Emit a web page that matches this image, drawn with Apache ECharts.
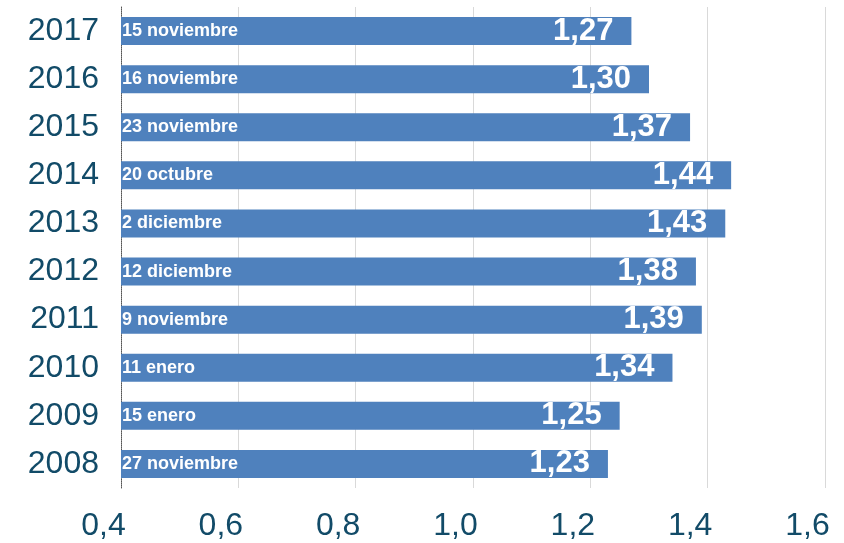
<!DOCTYPE html>
<html>
<head>
<meta charset="utf-8">
<script src="https://cdn.jsdelivr.net/npm/echarts@6/dist/echarts.min.js"></script>
<style>
  html, body { margin: 0; padding: 0; background: #fff; }
  #main { width: 844px; height: 543px; }
</style>
</head>
<body>
<div id="main"></div>
<script>
// years listed bottom to top (category axis starts at the bottom)
var years = ['2008', '2009', '2010', '2011', '2012', '2013', '2014', '2015', '2016', '2017'];
var values = [1.23, 1.25, 1.34, 1.39, 1.38, 1.43, 1.44, 1.37, 1.30, 1.27];
var dates = ['27 noviembre', '15 enero', '11 enero', '9 noviembre', '12 diciembre',
  '2 diciembre', '20 octubre', '23 noviembre', '16 noviembre', '15 noviembre'];

var font = 'Liberation Sans, Arial, sans-serif';
var textColor = '#124b68';

var chart = echarts.init(document.getElementById('main'));
chart.setOption({
  animation: false,
  grid: { left: 121, right: 19, top: 7, bottom: 55, containLabel: false },
  xAxis: {
    type: 'value',
    min: 0.4,
    max: 1.6,
    interval: 0.2,
    axisLine: { show: false },
    axisTick: { show: false },
    axisLabel: {
      margin: 22,
      color: textColor,
      fontSize: 32,
      fontFamily: font,
      align: 'center',
      padding: [0, 35, 0, 0],
      formatter: function (v) { return v.toFixed(1).replace('.', ','); }
    },
    splitLine: { lineStyle: { color: '#d9d9d9', width: 1 } }
  },
  yAxis: {
    type: 'category',
    data: years,
    axisLine: { lineStyle: { color: '#555', type: 'dotted', width: 1 } },
    axisTick: { show: false },
    axisLabel: {
      margin: 22,
      color: textColor,
      fontSize: 32,
      fontFamily: font
    }
  },
  series: [
    {
      type: 'bar',
      data: values,
      barWidth: 28,
      itemStyle: { color: '#4f81bd' },
      label: {
        show: true,
        position: 'insideRight',
        distance: 18,
        padding: [3, 0, 0, 0],
        color: '#fff',
        fontSize: 31,
        fontWeight: 'bold',
        fontFamily: font,
        formatter: function (p) { return p.value.toFixed(2).replace('.', ','); }
      }
    },
    {
      type: 'bar',
      data: values,
      barWidth: 28,
      barGap: '-100%',
      itemStyle: { color: 'rgba(0,0,0,0)' },
      label: {
        show: true,
        position: 'insideLeft',
        distance: 1,
        padding: [3, 0, 0, 0],
        color: '#fff',
        fontSize: 18,
        fontWeight: 'bold',
        fontFamily: font,
        formatter: function (p) { return dates[p.dataIndex]; }
      }
    }
  ]
});
</script>
</body>
</html>
